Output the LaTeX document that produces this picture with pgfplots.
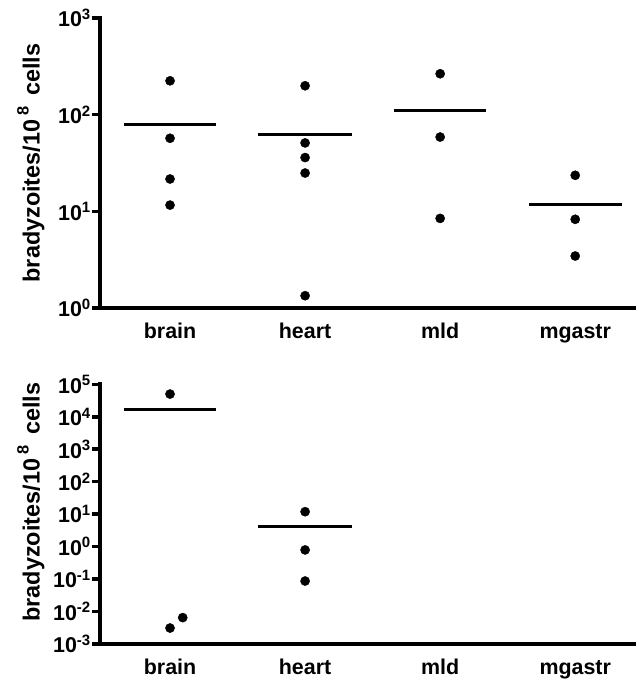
\documentclass[border=0pt]{standalone}
\usepackage{fontspec}
\setmainfont{Liberation Sans}
\usepackage{pgfplots}
\pgfplotsset{compat=1.18}
\pgfplotsset{
  myax/.style={
    scale only axis, width=536bp,
    xmin=-0.5185, xmax=3.45,
    axis x line*=bottom, axis y line*=left,
    axis line style={line width=3.8bp, line cap=rect, black},
    xtick={0,1,2,3}, xticklabels={brain,heart,mld,mgastr},
    x tick style={draw=none},
    y tick style={line width=3.5bp, black},
    minor tick style={draw=none},
    major tick length=8bp, tick align=outside,
    tick label style={font=\bfseries\fontsize{21.5}{24}\selectfont},
    xticklabel style={yshift=-3bp, text height=16bp, text depth=5bp},
    yticklabel style={inner sep=1bp},
    ylabel={\bfseries\fontsize{23.5}{26}\selectfont bradyzoites/10\,\raisebox{2pt}{\textsuperscript{8}}\, cells},
    clip=false,
  },
  mydots/.style={only marks, mark=*, mark size=4.6bp, black},
  mymean/.style={no marks, line width=2.8bp, black},
}
\begin{document}
\begin{tikzpicture}
\useasboundingbox (0,0) rectangle (636bp,679bp);
% top panel
\begin{axis}[ymode=log, myax, at={(100bp,371bp)}, anchor=south west, height=290bp,
  ymin=1, ymax=1000, ytick={1,10,100,1000},
  yticklabels={10\textsuperscript{0},10\textsuperscript{1},10\textsuperscript{2},10\textsuperscript{3}},
  ylabel style={at={(axis description cs:-0.129,0.5)}, anchor=center}]
\addplot[mydots] coordinates {(0,224) (0,57) (0,21.6) (0,11.6)};
\addplot[mydots] coordinates {(1,199) (1,51) (1,36) (1,24.9) (1,1.34)};
\addplot[mydots] coordinates {(2,265) (2,58.7) (2,8.45)};
\addplot[mydots] coordinates {(3,23.6) (3,8.27) (3,3.45)};
\addplot[mymean] coordinates {(-0.34,78.55) (0.34,78.55)};
\addplot[mymean] coordinates {(0.655,62.4) (1.35,62.4)};
\addplot[mymean] coordinates {(1.66,110.7) (2.34,110.7)};
\addplot[mymean] coordinates {(2.66,11.77) (3.35,11.77)};
\end{axis}
% bottom panel
\begin{axis}[ymode=log, myax, at={(100bp,35bp)}, anchor=south west, height=259.7bp,
  ymin=1e-3, ymax=1e5, ytick={1e-3,1e-2,1e-1,1,10,100,1000,1e4,1e5},
  yticklabels={10\textsuperscript{-3},10\textsuperscript{-2},10\textsuperscript{-1},10\textsuperscript{0},10\textsuperscript{1},10\textsuperscript{2},10\textsuperscript{3},10\textsuperscript{4},10\textsuperscript{5}},
  ylabel style={at={(axis description cs:-0.129,0.546)}, anchor=center}]
\addplot[mydots] coordinates {(0,50000) (0,0.0031) (0.094,0.0065)};
\addplot[mydots] coordinates {(1,11.9) (1,0.79) (1,0.087)};
\addplot[mymean] coordinates {(-0.34,16667) (0.34,16667)};
\addplot[mymean] coordinates {(0.655,4.26) (1.35,4.26)};
\end{axis}
\end{tikzpicture}
\end{document}
